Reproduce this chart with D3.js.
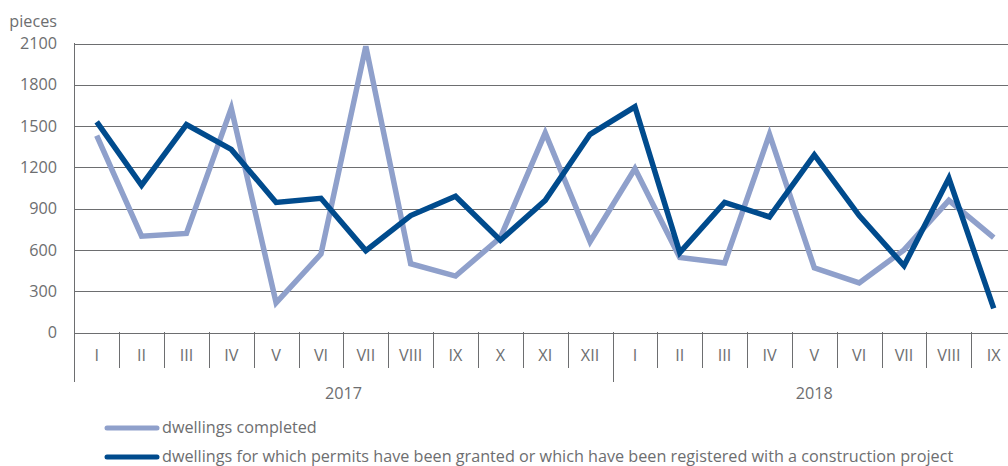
<!DOCTYPE html>
<html>
<head>
<meta charset="utf-8">
<script src="https://cdn.jsdelivr.net/npm/d3@7"></script>
<style>
  body { margin: 0; background: #fff; }
  text { font-family: "Open Sans", sans-serif; fill: #6d6e70; font-size: 16.2px; }
</style>
</head>
<body>
<div id="chart"></div>
<script>
// month labels, two years
var months = ["I", "II", "III", "IV", "V", "VI", "VII", "VIII", "IX", "X", "XI", "XII",
              "I", "II", "III", "IV", "V", "VI", "VII", "VIII", "IX"];
var years = [{ label: "2017", count: 12 }, { label: "2018", count: 9 }];
var yTicks = [0, 300, 600, 900, 1200, 1500, 1800, 2100];

var completed = [1430, 700, 720, 1630, 215, 570, 2080, 500, 410, 690, 1450, 660,
                 1190, 545, 505, 1440, 470, 360, 600, 960, 690];
var permits = [1530, 1070, 1510, 1330, 945, 975, 595, 850, 990, 670, 960, 1440,
               1640, 580, 945, 840, 1290, 850, 485, 1120, 175];

var seriesNames = ["dwellings completed",
  "dwellings for which permits have been granted or which have been registered with a construction project"];
var colors = ["#8fa0cb", "#004b8d"];
var gridColor = "#6d6e70";

var W = 1008, H = 466;
var left = 74.3, bandW = 44.85;
var right = left + bandW * months.length;

var svg = d3.select("#chart").append("svg")
    .attr("width", W)
    .attr("height", H);

var x = d3.scaleBand()
    .domain(d3.range(months.length))
    .range([left, right])
    .padding(0);

var y = d3.scaleLinear()
    .domain([0, 2100])
    .range([332.5, 43.5]);

// gridlines
svg.append("g").selectAll("line")
    .data(yTicks)
    .enter().append("line")
    .attr("x1", left).attr("x2", right)
    .attr("y1", d => Math.round(y(d)) + 0.5)
    .attr("y2", d => Math.round(y(d)) + 0.5)
    .attr("stroke", gridColor)
    .attr("stroke-width", 1);

// y labels
svg.append("g").selectAll("text")
    .data(yTicks)
    .enter().append("text")
    .attr("x", 57)
    .attr("y", d => y(d))
    .attr("dy", "0.35em")
    .attr("text-anchor", "end")
    .text(d => d);

svg.append("text")
    .attr("x", 57).attr("y", 21)
    .attr("dy", "0.35em")
    .attr("text-anchor", "end")
    .text("pieces");

// left axis line
svg.append("line")
    .attr("x1", 74.5).attr("x2", 74.5)
    .attr("y1", 43).attr("y2", 382)
    .attr("stroke", gridColor);

// month separators
var yearStarts = [];
var acc = 0;
years.forEach(function (yr) { yearStarts.push(acc); acc += yr.count; });

svg.append("g").selectAll("line")
    .data(d3.range(1, months.length + 1))
    .enter().append("line")
    .attr("x1", d => Math.round(left + d * bandW) + 0.5)
    .attr("x2", d => Math.round(left + d * bandW) + 0.5)
    .attr("y1", 332)
    .attr("y2", d => yearStarts.indexOf(d) > 0 ? 382 : 368)
    .attr("stroke", gridColor);

// month labels
svg.append("g").selectAll("text")
    .data(months)
    .enter().append("text")
    .attr("x", (d, i) => x(i) + x.bandwidth() / 2)
    .attr("y", 355)
    .attr("dy", "0.35em")
    .attr("text-anchor", "middle")
    .text(d => d);

// year labels
svg.append("g").selectAll("text")
    .data(years)
    .enter().append("text")
    .attr("x", (d, i) => x(yearStarts[i]) + d.count * bandW / 2)
    .attr("y", 393)
    .attr("dy", "0.35em")
    .attr("text-anchor", "middle")
    .text(d => d.label);

// lines
var line = d3.line()
    .x((d, i) => x(i) + x.bandwidth() / 2)
    .y(d => y(d));

[completed, permits].forEach(function (s, k) {
    svg.append("path")
        .datum(s)
        .attr("d", line)
        .attr("fill", "none")
        .attr("stroke", colors[k])
        .attr("stroke-width", 5.5)
        .attr("stroke-linejoin", "miter");
});

// legend
var legend = svg.append("g").selectAll("g")
    .data(seriesNames)
    .enter().append("g")
    .attr("transform", (d, i) => "translate(0," + (428 + i * 29) + ")");

legend.append("line")
    .attr("x1", 107).attr("x2", 157)
    .attr("stroke", (d, i) => colors[i])
    .attr("stroke-width", 5)
    .attr("stroke-linecap", "round");

legend.append("text")
    .attr("x", 162)
    .attr("dy", "0.32em")
    .text(d => d);
</script>
</body>
</html>
